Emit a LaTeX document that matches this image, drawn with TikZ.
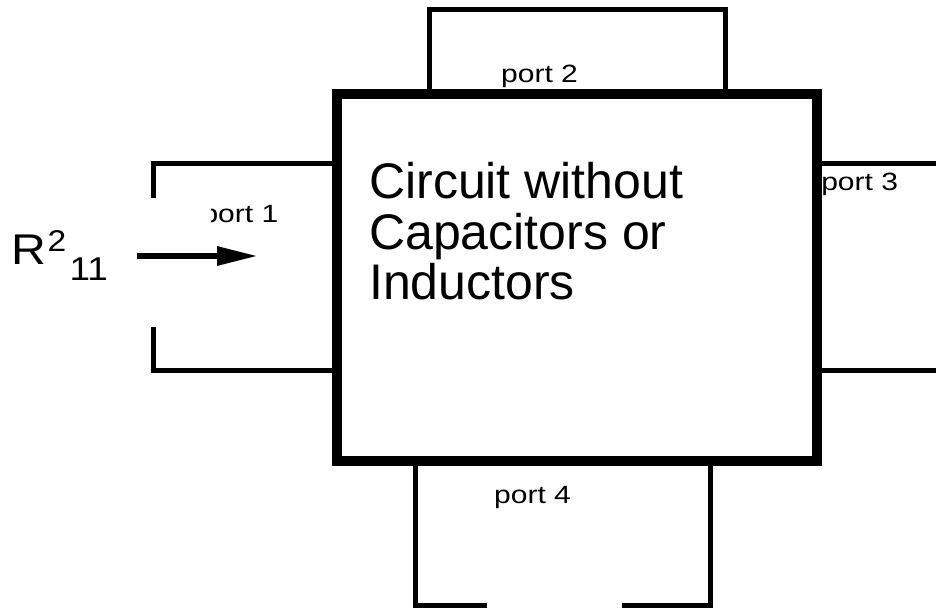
\documentclass[tikz,border=0pt]{standalone}
\usepackage{fontspec}
\setmainfont{Liberation Sans}
\usetikzlibrary{arrows.meta}
\begin{document}
\begin{tikzpicture}[x=1pt,y=-1pt,
  portline/.style={line width=5pt, line join=miter},
  boxline/.style={line width=10pt, line join=miter},
  portlabel/.style={font=\fontsize{25}{25}\selectfont, inner sep=0pt, anchor=base west, xscale=1.2},
  bigtext/.style={font=\fontsize{50}{50}\selectfont, inner sep=0pt, anchor=base west},
]
\useasboundingbox[fill=white] (0,0) rectangle (936,609);
% port 2
\draw[portline] (429,94) -- (429,9.5) -- (725,9.5) -- (725,94);
% port 1
\draw[portline] (337,163.5) -- (153.5,163.5) -- (153.5,198);
\draw[portline] (153.5,327) -- (153.5,370) -- (337,370);
% port 3
\draw[portline] (817,164) -- (940,164);
\draw[portline] (817,370) -- (940,370);
% port 4
\draw[portline] (415,461) -- (415,605) -- (487,605);
\draw[portline] (622,605) -- (710,605) -- (710,461);
% main box
\draw[boxline] (337,94) rectangle (817,461);
% labels
\node[portlabel] (p2) at (501,83) {port 2};
\node[portlabel] (p3) at (821,191) {port 3};
\node[portlabel] (p4) at (494,503) {port 4};
\begin{scope}
\clip (211,195) rectangle (300,235);
\node[portlabel, anchor=base east] (p1) at (278.5,223) {port 1};
\end{scope}
\node[bigtext] (c1) at (369,199) {Circuit without};
\node[bigtext] (c2) at (369,250) {Capacitors or};
\node[bigtext] (c3) at (369,300) {Inductors};
% R label
\node[inner sep=0pt, anchor=base west, xscale=1.12] (r) at (11.5,265)
  {{\fontsize{43}{43}\selectfont R}\kern1pt\raisebox{13pt}{\fontsize{30}{30}\selectfont 2}\kern3pt\raisebox{-16pt}{\fontsize{33}{33}\selectfont 11}};
% arrow
\coordinate (a1) at (137,256);
\coordinate (a2) at (258,256);
\draw[line width=6pt, -{Triangle[length=41pt,width=18pt]}] (a1) -- (a2);
\end{tikzpicture}
\end{document}
